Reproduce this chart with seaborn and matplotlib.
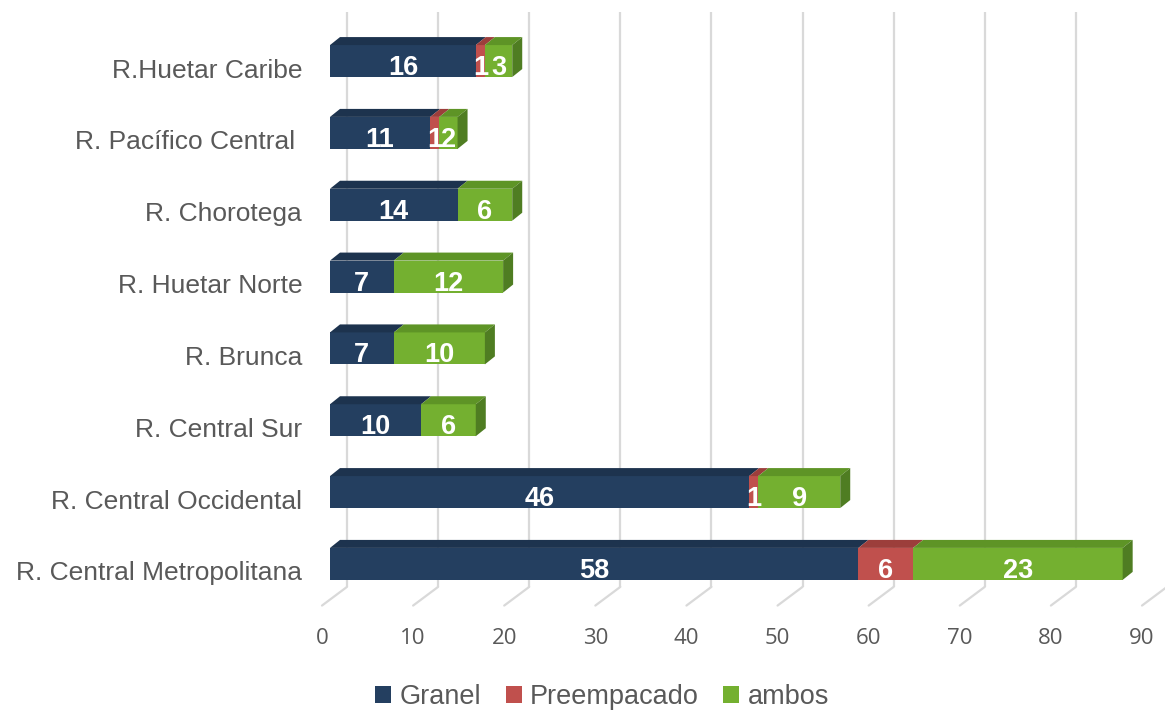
import numpy as np
import pandas as pd
import seaborn as sns
import matplotlib.pyplot as plt
import matplotlib.transforms as mtrans
from matplotlib.patches import Polygon, Patch

# --- data (top to bottom as in the chart) ---
regions = ["R.Huetar Caribe", "R. Pacífico Central ", "R. Chorotega", "R. Huetar Norte",
           "R. Brunca", "R. Central Sur", "R. Central Occidental", "R. Central Metropolitana"]
granel = [16, 11, 14, 7, 7, 10, 46, 58]
preempacado = [1, 1, 0, 0, 0, 0, 1, 6]
ambos = [3, 2, 6, 12, 10, 6, 9, 23]
series = ["Granel", "Preempacado", "ambos"]
x_ticks = list(range(0, 91, 10))

front_col = {"Granel": "#243F60", "Preempacado": "#C0504D", "ambos": "#74B030"}
top_col = {"Granel": "#1D334E", "Preempacado": "#9C3E3B", "ambos": "#5E9426"}
side_col = "#4F7D22"
grid_col = "#D9D9D9"
text_col = "#595959"

df = pd.DataFrame({"region": regions, "Granel": granel,
                   "Preempacado": preempacado, "ambos": ambos})
cum = df[series].cumsum(axis=1)

sns.set_theme(style="white")
plt.rcParams['font.family'] = ['Liberation Sans', 'DejaVu Sans']

W, H = 1165, 712
fig = plt.figure(figsize=(W / 100, H / 100), dpi=100)
ax_px = (330, 105, 820, 607)  # left, bottom, width, height in pixels
ax = fig.add_axes([ax_px[0] / W, ax_px[1] / H, ax_px[2] / W, ax_px[3] / H])

xlim = (0, 90)
ylim = (7.6, -0.85)
px_x = ax_px[2] / (xlim[1] - xlim[0])
px_y = ax_px[3] / (ylim[0] - ylim[1])

# 3D look: depth offsets in pixels converted to data units
ddx, ddy = 10 / px_x, 8 / px_y
back_dx, front_dx = 17 / px_x, -8 / px_x
floor_back, floor_front, grid_top = 7.32, 7.58, -0.68

# --- background "walls" (gridlines + floor diagonals) ---
for v in x_ticks:
    ax.plot([v + back_dx, v + back_dx], [grid_top, floor_back], color=grid_col,
            lw=1.6, zorder=0.5, clip_on=False, solid_capstyle='butt')
    ax.plot([v + back_dx, v + front_dx], [floor_back, floor_front], color=grid_col,
            lw=1.6, zorder=0.5, clip_on=False)

# --- bars ---
for s in series:
    sns.barplot(data=df, x=s, y="region", color=front_col[s], saturation=1,
                width=0.445, orient="h", ax=ax, errorbar=None, zorder=2)

for k, s in enumerate(series):
    cont = ax.containers[k]
    for i, bar in enumerate(cont):
        v = df[s][i]
        left = cum[s][i] - v
        bar.set_x(left)
        bar.set_width(v)
        bar.set_edgecolor("none")
        if v <= 0:
            continue
        y0 = bar.get_y()
        y1 = y0 + bar.get_height()
        right = left + v
        ax.add_patch(Polygon([(left, y0), (right, y0), (right + ddx, y0 - ddy),
                              (left + ddx, y0 - ddy)], closed=True,
                             facecolor=top_col[s], edgecolor="none", zorder=2))
        if s == series[-1]:
            ax.add_patch(Polygon([(right, y0), (right + ddx, y0 - ddy),
                                  (right + ddx, y1 - ddy), (right, y1)], closed=True,
                                 facecolor=side_col, edgecolor="none", zorder=2))
    labs = ax.bar_label(cont, labels=[str(v) if v > 0 else "" for v in df[s]],
                        label_type="center", color="white", fontweight="bold",
                        fontsize=19.5, zorder=3)
    for t in labs:
        t.xyann = (0, -5)

ax.set_xlim(*xlim)
ax.set_ylim(*ylim)
ax.set_xlabel("")
ax.set_ylabel("")
for sp in ax.spines.values():
    sp.set_visible(False)

# x tick labels placed at the front edge of the floor
ax.set_xticks([])
xt = mtrans.offset_copy(ax.get_xaxis_transform(), fig=fig, x=-8, y=-32, units='dots')
for v in x_ticks:
    ax.text(v, 0, str(v), transform=xt, ha="center", va="center",
            fontsize=16, color=text_col, family=["Open Sans", "DejaVu Sans"])

ax.tick_params(axis="y", length=0, pad=20, labelsize=19, labelcolor=text_col)
for lbl in ax.get_yticklabels():
    lbl.set_transform(lbl.get_transform() +
                      mtrans.ScaledTranslation(0, -7 / 100, fig.dpi_scale_trans))

handles = [Patch(facecolor=front_col[s], edgecolor="none") for s in series]
fig.legend(handles, series, loc="center", bbox_to_anchor=(602 / W, 15 / H), ncol=3,
           frameon=False, fontsize=19.5, handlelength=0.6, handleheight=0.6,
           handletextpad=0.3, columnspacing=0.9, labelcolor=text_col)

fig.savefig("out.png", dpi=100)
